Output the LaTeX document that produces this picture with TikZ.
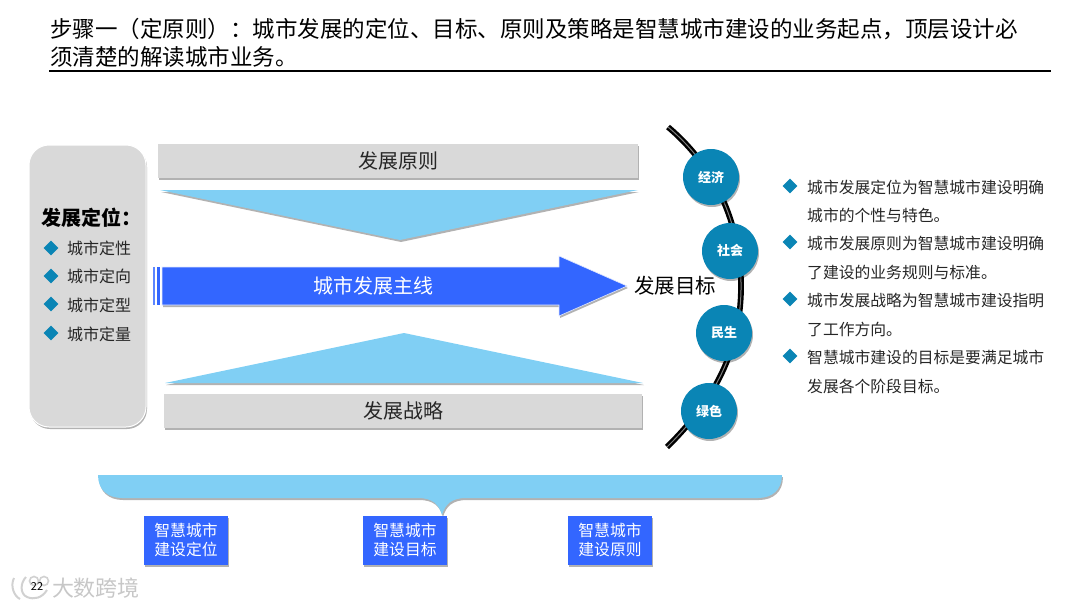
\documentclass[tikz,border=0pt]{standalone}
\usepackage{fontspec}
\setmainfont{Noto Sans CJK SC}
\usetikzlibrary{shapes.geometric,shadows}
\definecolor{panelgray}{HTML}{D9D9D9}
\definecolor{skyblue}{HTML}{80CFF4}
\definecolor{mainblue}{HTML}{3366FF}
\definecolor{tealblue}{HTML}{0A85B5}
\definecolor{darktext}{HTML}{262626}
\newcommand{\px}[1]{\fontsize{#1}{#1}\selectfont}
\begin{document}
\begin{tikzpicture}[
  x=1pt, y=-1pt,
  softshadow/.style={drop shadow={shadow xshift=1pt, shadow yshift=-2pt, opacity=0.3, fill=black}},
  titleline/.style={anchor=west, inner sep=0, text=black, font=\px{22.5}},
  bar/.style={fill=panelgray, softshadow, inner sep=0, minimum width=480, minimum height=34, text=darktext, font=\px{20}},
  wedge/.style={fill=skyblue, softshadow},
  goal/.style={circle, fill=tealblue, softshadow, inner sep=0, minimum size=56, text=white, font=\px{13}\bfseries},
  marker/.style={diamond, fill=tealblue, inner sep=0, minimum size=15},
  item/.style={anchor=west, inner sep=0, text=darktext, font=\px{16}},
  note/.style={anchor=west, inner sep=0, text=darktext, font=\px{15.8}},
  tag/.style={fill=mainblue, softshadow, inner sep=0, minimum width=84, minimum height=49, align=center, text=white, font=\fontsize{15.8}{19.5}\selectfont}
]

\useasboundingbox (0,0) rectangle (1080,608);

\node[titleline] (titleone) at (50,29) {步骤一（定原则）：城市发展的定位、目标、原则及策略是智慧城市建设的业务起点，顶层设计必};
\node[titleline] (titletwo) at (50,57) {须清楚的解读城市业务。};
\draw[line width=1.2pt] (49,71) -- (1051,71);

\draw[fill=panelgray, draw=white, line width=1pt, rounded corners=20pt, softshadow] (29,145) rectangle (146,427);
\node[anchor=west, inner sep=0, text=black, font=\px{20}\bfseries] (positioning) at (41,218) {发展定位：};
\node[marker] (marka) at (51,248) {};
\node[item] (itema) at (67,248) {城市定性};
\node[marker] (markb) at (51,276) {};
\node[item] (itemb) at (67,276) {城市定向};
\node[marker] (markc) at (51,304) {};
\node[item] (itemc) at (67,305) {城市定型};
\node[marker] (markd) at (51,333) {};
\node[item] (itemd) at (67,334) {城市定量};

\node[bar] (principle) at (398,161) {发展原则};
\path[wedge] (160,190) -- (638,190) -- (400,240) -- cycle;

\path[wedge] (165,383) -- (643,383) -- (404,333) -- cycle;
\node[bar, minimum width=478] (strategy) at (403,411) {发展战略};

\fill[mainblue!80!white] (153,267) rectangle (155,305);
\fill[mainblue] (157,267) rectangle (160,305);
\draw[fill=mainblue, draw=white!85!mainblue, line width=0.6pt, softshadow] (162,267) -- (559,267) -- (559,256) -- (627,286) -- (559,316) -- (559,305) -- (162,305) -- cycle;
\node[text=white, font=\px{20}] (mainline) at (373,286) {城市发展主线};
\node[text=black, font=\px{20.5}, inner sep=0] (target) at (675,286) {发展目标};

\draw[line width=2.4pt, black, double=gray, double distance=1pt] (668,127) .. controls (725,175) and (742,240) .. (741,290) .. controls (740,350) and (715,400) .. (667,447);

\node[goal] (economy) at (711,177) {经济};
\node[goal] (society) at (730,251) {社会};
\node[goal] (people) at (724,333) {民生};
\node[goal] (green) at (709,411) {绿色};

\node[marker] (noteamark) at (790,186) {};
\node[note] (notea) at (807,187) {城市发展定位为智慧城市建设明确};
\node[note] (noteb) at (807,215) {城市的个性与特色。};
\node[marker] (notebmark) at (790,242) {};
\node[note] (notec) at (807,243) {城市发展原则为智慧城市建设明确};
\node[note] (noted) at (807,272) {了建设的业务规则与标准。};
\node[marker] (notecmark) at (790,299) {};
\node[note] (notee) at (807,300) {城市发展战略为智慧城市建设指明};
\node[note] (notef) at (807,329) {了工作方向。};
\node[marker] (notedmark) at (790,356) {};
\node[note] (noteg) at (807,357) {智慧城市建设的目标是要满足城市};
\node[note] (noteh) at (807,386) {发展各个阶段目标。};

\path[wedge] (98,475) -- (782,475) .. controls (782,490) and (772,498) .. (758,498) -- (466,498) .. controls (452,498) and (445,504) .. (442,515) .. controls (439,504) and (432,498) .. (418,498) -- (122,498) .. controls (108,498) and (98,490) .. (98,475) -- cycle;

\node[tag] (tagposition) at (186,540) {智慧城市\\建设定位};
\node[tag] (tagtarget) at (405,540) {智慧城市\\建设目标};
\node[tag] (tagprinciple) at (610,540) {智慧城市\\建设原则};

\node[text=black!22, font=\px{22}, inner sep=0] (mark) at (96,588) {大数跨境};
\draw[black!18, line width=2pt] (14,578) .. controls (10,586) and (14,596) .. (20,599);
\draw[black!18, line width=2pt] (26,577) .. controls (20,583) and (20,594) .. (27,597) .. controls (34,600) and (42,598) .. (47,590);
\draw[black!18, line width=1.6pt] (34,581) circle (4.5);
\draw[black!18, line width=1.6pt] (44,581) circle (4.5);
\node[text=black, font=\px{11}, inner sep=0] (pagenum) at (37,587) {22};

\end{tikzpicture}
\end{document}
